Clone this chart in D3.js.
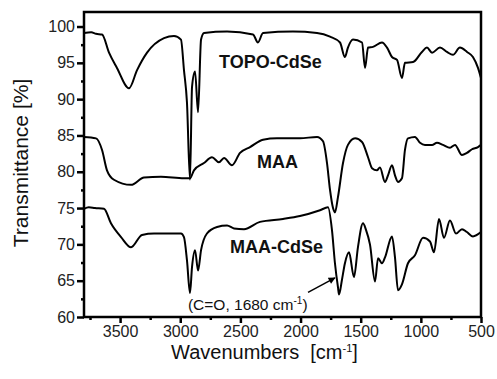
<!DOCTYPE html>
<html>
<head>
<meta charset="utf-8">
<script src="https://cdn.jsdelivr.net/npm/d3@7"></script>
<style>
  body { margin: 0; background: #fff; }
  text { font-family: "Liberation Sans", Arial, sans-serif; }
</style>
</head>
<body>
<svg id="chart" width="497" height="379"></svg>
<script>
// [wavenumber cm-1, transmittance %]
const topoCdSe = [
  [3800, 99.1], [3740, 99.2], [3700, 99.0], [3650, 98.9], [3592, 96.4], [3526, 94.3],
  [3426, 91.5], [3359, 94.0], [3276, 96.4], [3135, 98.4], [3052, 98.7], [2994, 98.2],
  [2969, 94.0], [2944, 89.5], [2919, 78.9], [2902, 91.7], [2877, 93.8], [2852, 88.2],
  [2827, 98.2], [2802, 99.1], [2611, 99.3], [2395, 98.9], [2354, 97.8], [2312, 99.1],
  [2063, 99.3], [1863, 99.1], [1755, 98.6], [1672, 97.8], [1631, 95.8], [1606, 97.1],
  [1564, 98.2], [1489, 97.8], [1464, 94.3], [1439, 97.1], [1398, 97.2], [1323, 97.8],
  [1281, 97.1], [1240, 95.8], [1198, 95.4], [1157, 92.9], [1132, 95.0], [1065, 95.1],
  [991, 96.5], [949, 97.1], [907, 96.4], [841, 97.1], [783, 96.5], [733, 96.1],
  [675, 97.1], [616, 96.5], [567, 95.8], [525, 94.3], [500, 92.9]
];

const maa = [
  [3800, 84.8], [3700, 84.6], [3650, 83.0], [3609, 80.2], [3551, 78.9], [3409, 78.2],
  [3301, 79.2], [3160, 79.3], [2969, 79.1], [2919, 79.1], [2886, 80.2], [2803, 81.2],
  [2736, 82.0], [2678, 81.3], [2636, 81.9], [2570, 80.9], [2503, 82.6], [2420, 83.4],
  [2312, 84.4], [2196, 84.6], [2005, 84.6], [1863, 84.8], [1813, 84.2], [1780, 81.2],
  [1755, 77.5], [1730, 75.0], [1714, 74.4], [1689, 76.5], [1647, 81.2], [1606, 83.7],
  [1547, 84.6], [1489, 84.1], [1439, 82.0], [1406, 80.5], [1365, 80.2], [1340, 80.6],
  [1298, 78.6], [1273, 79.5], [1240, 80.9], [1215, 79.5], [1190, 78.6], [1157, 79.1],
  [1132, 83.0], [1107, 84.6], [1049, 84.8], [1007, 84.0], [966, 83.7], [907, 83.7],
  [866, 84.0], [816, 83.7], [758, 83.3], [716, 83.7], [658, 82.3], [617, 82.6],
  [575, 83.1], [525, 83.4], [500, 83.7]
];

const maaCdSe = [
  [3800, 74.9], [3760, 75.1], [3709, 75.0], [3634, 74.9], [3576, 72.9], [3492, 71.0],
  [3409, 69.6], [3318, 71.3], [3218, 71.5], [2994, 71.5], [2969, 71.0], [2944, 67.8],
  [2919, 63.3], [2902, 66.9], [2877, 69.2], [2852, 66.4], [2827, 69.2], [2778, 71.5],
  [2694, 72.4], [2611, 72.6], [2553, 72.2], [2470, 72.1], [2337, 73.1], [2146, 73.5],
  [2005, 73.9], [1838, 74.7], [1772, 75.1], [1739, 72.0], [1714, 67.4], [1689, 64.1],
  [1680, 63.1], [1656, 65.1], [1631, 67.4], [1597, 68.9], [1556, 65.5], [1523, 69.6],
  [1481, 72.9], [1456, 72.0], [1423, 70.0], [1381, 64.9], [1356, 68.1], [1323, 67.4],
  [1298, 68.2], [1240, 71.1], [1215, 68.2], [1190, 63.7], [1157, 64.5], [1107, 67.4],
  [1049, 68.5], [982, 70.9], [924, 70.4], [891, 68.9], [849, 73.5], [808, 70.9],
  [758, 73.3], [708, 71.5], [658, 72.1], [617, 71.7], [567, 71.1], [500, 71.7]
];

const xTicks = [3500, 3000, 2500, 2000, 1500, 1000, 500];
const xMinor = [3750, 3250, 2750, 2250, 1750, 1250, 750];
const yTicks = [60, 65, 70, 75, 80, 85, 90, 95, 100];
const yMinor = [62.5, 67.5, 72.5, 77.5, 82.5, 87.5, 92.5, 97.5];

const margin = { top: 12, right: 16, bottom: 62, left: 84 };
const width = 497, height = 379;
const font = '"Liberation Sans", Arial, sans-serif';

const svg = d3.select('#chart');

const x = d3.scaleLinear()
  .domain([3800, 500])
  .range([margin.left, width - margin.right]);

const y = d3.scaleLinear()
  .domain([60, 102])
  .range([height - margin.bottom, margin.top]);

const line = d3.line()
  .x(d => x(d[0]))
  .y(d => y(d[1]))
  .curve(d3.curveMonotoneX);

// --- SPECTRA ---
[topoCdSe, maa, maaCdSe].forEach(series => {
  svg.append('path')
    .datum(series)
    .attr('fill', 'none')
    .attr('stroke', '#000')
    .attr('stroke-width', 2)
    .attr('stroke-linejoin', 'round')
    .attr('d', line);
});

// --- AXES ---
const xAxis = svg.append('g')
  .attr('transform', `translate(0,${height - margin.bottom})`)
  .call(d3.axisBottom(x).tickValues(xTicks).tickFormat(d3.format('d'))
    .tickSize(6).tickSizeOuter(0).tickPadding(3));

xAxis.append('g')
  .call(d3.axisBottom(x).tickValues(xMinor).tickSize(3).tickFormat(''));

const yAxis = svg.append('g')
  .attr('transform', `translate(${margin.left},0)`)
  .call(d3.axisLeft(y).tickValues(yTicks).tickFormat(d3.format('d'))
    .tickSize(7).tickSizeOuter(0).tickPadding(2));

yAxis.append('g')
  .call(d3.axisLeft(y).tickValues(yMinor).tickSize(3).tickFormat(''));

svg.selectAll('.domain').remove();
svg.selectAll('g').attr('font-family', font);
svg.selectAll('.tick line').attr('stroke', '#000').attr('stroke-width', 2.5);
svg.selectAll('.tick text')
  .attr('fill', '#222')
  .attr('font-size', 16);

// frame
svg.append('rect')
  .attr('x', margin.left)
  .attr('y', margin.top)
  .attr('width', width - margin.left - margin.right)
  .attr('height', height - margin.top - margin.bottom)
  .attr('fill', 'none')
  .attr('stroke', '#000')
  .attr('stroke-width', 2.5);

// --- AXIS TITLES ---
svg.append('text')
  .attr('transform', `translate(28,${163}) rotate(-90)`)
  .attr('text-anchor', 'middle')
  .attr('font-size', 21)
  .attr('fill', '#111')
  .text('Transmittance [%]');

const xTitle = svg.append('text')
  .attr('x', 171)
  .attr('y', 359)
  .attr('font-size', 20)
  .attr('fill', '#111')
  .attr('xml:space', 'preserve');
xTitle.append('tspan').text('Wavenumbers  [cm');
xTitle.append('tspan').attr('dy', -7).attr('font-size', 11).text('-1');
xTitle.append('tspan').attr('dy', 7).text(']');

// --- LABELS ---
const bold = (wn, t, txt) => svg.append('text')
  .attr('x', x(wn))
  .attr('y', y(t))
  .attr('font-size', 18)
  .attr('font-weight', 'bold')
  .attr('fill', '#111')
  .text(txt);

bold(2678, 94.3, 'TOPO-CdSe');
bold(2362, 80.5, 'MAA');
bold(2586, 68.8, 'MAA-CdSe');

const note = svg.append('text')
  .attr('x', x(2936))
  .attr('y', y(61.0))
  .attr('font-size', 15.5)
  .attr('fill', '#111');
note.append('tspan').text('(C=O, 1680 cm');
note.append('tspan').attr('dy', -6).attr('font-size', 10).text('-1');
note.append('tspan').attr('dy', 6).text(')');

// arrow to the carbonyl band
svg.append('defs').append('marker')
  .attr('id', 'head')
  .attr('viewBox', '0 0 10 10')
  .attr('refX', 9).attr('refY', 5)
  .attr('markerWidth', 9).attr('markerHeight', 7)
  .attr('markerUnits', 'userSpaceOnUse')
  .attr('orient', 'auto')
  .append('path')
  .attr('d', 'M0,0 L10,5 L0,10 Z')
  .attr('fill', '#000');

svg.append('line')
  .attr('x1', x(1938)).attr('y1', y(63.4))
  .attr('x2', x(1714)).attr('y2', y(65.4))
  .attr('stroke', '#000')
  .attr('stroke-width', 1.5)
  .attr('marker-end', 'url(#head)');
</script>
</body>
</html>
